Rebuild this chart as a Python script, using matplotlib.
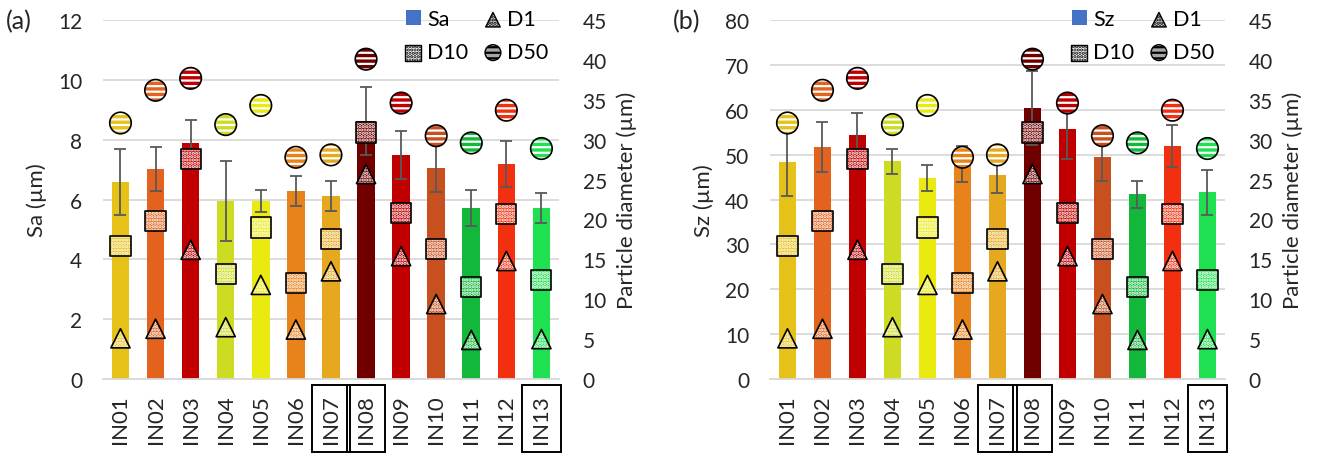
import matplotlib.pyplot as plt
import numpy as np
from matplotlib.patches import Patch

samples = ["IN01", "IN02", "IN03", "IN04", "IN05", "IN06", "IN07",
           "IN08", "IN09", "IN10", "IN11", "IN12", "IN13"]
boxed = ["IN07", "IN08", "IN13"]
colors = ["#E6C219", "#E2621E", "#C00000", "#CDDC22", "#EAEA10", "#E8821A", "#E6A81E",
          "#700000", "#C00000", "#C8501E", "#12B83A", "#F2300F", "#1EE050"]

sa = [6.6, 7.02, 7.89, 5.95, 5.95, 6.3, 6.12, 8.63, 7.5, 7.05, 5.72, 7.19, 5.72]
sa_err = [1.1, 0.75, 0.78, 1.34, 0.38, 0.5, 0.5, 1.15, 0.8, 0.8, 0.6, 0.78, 0.5]
sz = [48.3, 51.7, 54.3, 48.5, 44.7, 48.0, 45.4, 60.4, 55.7, 49.4, 41.2, 51.9, 41.6]
sz_err = [7.6, 5.6, 5.0, 2.7, 2.9, 4.0, 4.0, 8.3, 6.7, 5.3, 3.0, 4.7, 5.0]

d1 = [5.1, 6.3, 16.2, 6.5, 11.8, 6.2, 13.5, 25.7, 15.4, 9.4, 4.9, 14.8, 5.0]
d10 = [16.7, 19.8, 27.6, 13.2, 19.0, 12.0, 17.6, 30.9, 20.8, 16.3, 11.5, 20.7, 12.4]
d50 = [32.1, 36.2, 37.7, 31.9, 34.3, 27.8, 28.1, 40.1, 34.6, 30.5, 29.6, 33.7, 28.9]

plt.rcParams['font.family'] = ['Lato', 'DejaVu Sans']
plt.rcParams['font.size'] = 15
plt.rcParams['hatch.linewidth'] = 1.6
txt = '#262626'
grid = '#d9d9d9'

fig = plt.figure(figsize=(13.18, 4.56), dpi=100)


def markers(ax2, vals, marker, size, hatch):
    x = np.arange(len(samples))
    ax2.scatter(x, vals, s=size, marker=marker, facecolors=colors,
                edgecolors='white', linewidths=0, hatch=hatch, zorder=3)
    ax2.scatter(x, vals, s=size, marker=marker, facecolors='none',
                edgecolors='black', linewidths=1.2, zorder=4)


def panel(rect, vals, errs, ymax, step, ylabel, name, tag):
    ax = fig.add_axes(rect)
    x = np.arange(len(samples))
    ax.bar(x, vals, width=0.5, color=colors, zorder=2)
    ax.errorbar(x, vals, yerr=errs, fmt='none', ecolor='#595959',
                elinewidth=1.3, capsize=4, capthick=1.3, zorder=2.5)
    ax.set_ylim(0, ymax)
    ax.set_xlim(-0.5, len(samples) - 0.5)
    ax.set_yticks(np.arange(0, ymax + step / 2, step))
    ax.yaxis.grid(True, color=grid, lw=1.3, zorder=0)
    ax.set_axisbelow(True)
    ax.set_xticks(x)
    ax.set_xticklabels(samples, rotation=90, fontsize=16)
    for lab in ax.get_xticklabels():
        if lab.get_text() in boxed:
            lab.set_bbox(dict(boxstyle='square,pad=0.42', fc='none', ec='black', lw=1.4))
    for s in ['top', 'left', 'right']:
        ax.spines[s].set_visible(False)
    ax.spines['bottom'].set_color(grid)
    ax.spines['bottom'].set_linewidth(1.3)
    ax.tick_params(length=0, colors=txt)
    ax.tick_params(axis='y', labelsize=15, pad=15)
    ax.tick_params(axis='x', pad=11)
    ax.set_ylabel(ylabel, color=txt, fontsize=16, labelpad=8)

    ax2 = ax.twinx()
    ax2.set_ylim(0, 45)
    ax2.set_yticks(np.arange(0, 46, 5))
    for s in ax2.spines.values():
        s.set_visible(False)
    ax2.tick_params(length=0, colors=txt, labelsize=15, pad=17)
    ax2.set_ylabel("Particle diameter (µm)", color=txt, fontsize=16, labelpad=7)

    markers(ax2, d1, '^', 190, '.....')
    markers(ax2, d10, 's', 210, '.....')
    markers(ax2, d50, 'o', 240, '---')

    handles = [
        Patch(facecolor='#4472C4', label=name),
        ax2.scatter([], [], s=130, marker='s', facecolors='white', edgecolors='black',
                    linewidths=1, hatch='.....', label='D10'),
        ax2.scatter([], [], s=110, marker='^', facecolors='#d0d0d0', edgecolors='black',
                    linewidths=1, hatch='.....', label='D1'),
        ax2.scatter([], [], s=130, marker='o', facecolors='#a6a6a6', edgecolors='black',
                    linewidths=1, hatch='---', label='D50'),
    ]
    ax2.legend(handles=handles, ncol=2, loc='upper right', bbox_to_anchor=(1.0, 1.06),
               frameon=False, fontsize=15.5, handlelength=0.7, handletextpad=0.3,
               columnspacing=0.8, labelspacing=0.6, scatterpoints=1,
               borderpad=0.3, borderaxespad=0.2)
    fig.text(rect[0] - 0.074, 0.935, tag, fontsize=18, color=txt)
    return ax


panel([0.0781, 0.1667, 0.346, 0.787], sa, sa_err, 12, 2, "Sa (µm)", "Sa", "(a)")
panel([0.5842, 0.1667, 0.3452, 0.787], sz, sz_err, 80, 10, "Sz (µm)", "Sz", "(b)")

plt.savefig("out.png", dpi=100)
